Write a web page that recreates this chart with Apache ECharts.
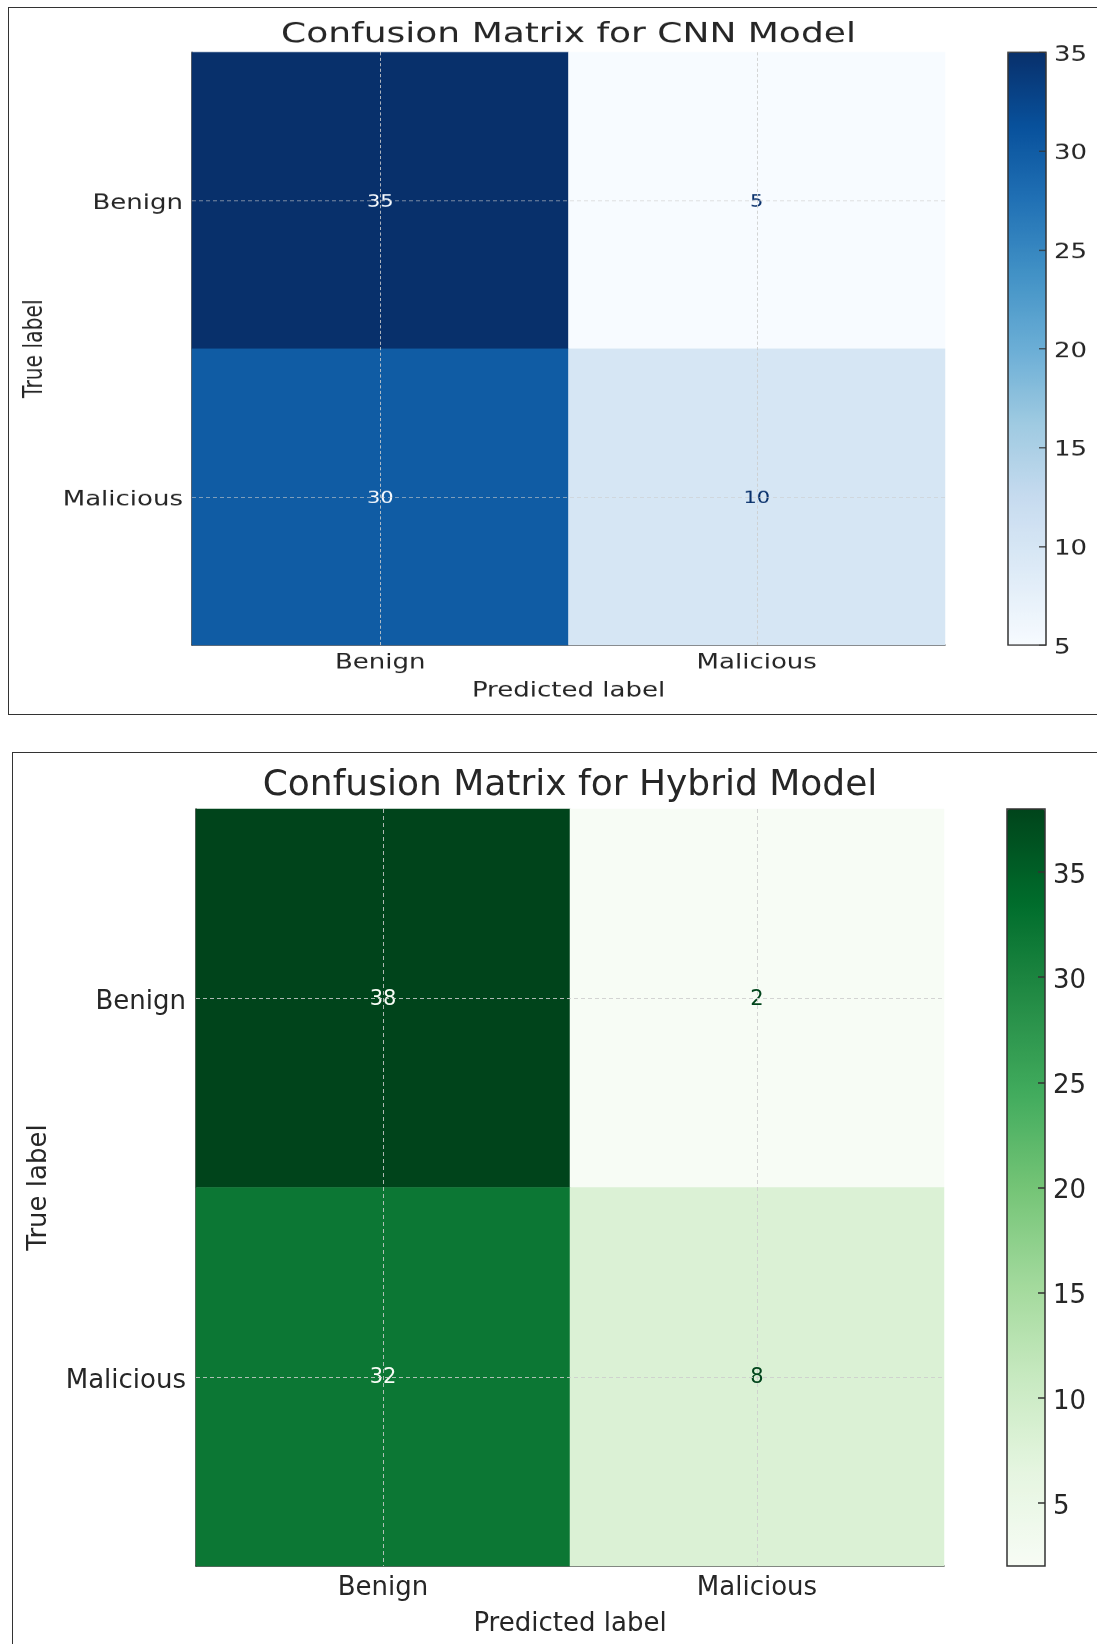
<!DOCTYPE html>
<html>
<head>
<meta charset="utf-8">
<script src="https://cdn.jsdelivr.net/npm/echarts@6/dist/echarts.min.js"></script>
<style>
  html, body { margin: 0; padding: 0; background: #fff; }
  body { width: 1097px; height: 1644px; position: relative; overflow: hidden; }
  .panel-box { position: absolute; border: 1.5px solid #333; box-sizing: border-box; }
  #cnn { position: absolute; left: 0; top: 0; width: 1097px; height: 960px; transform: scaleY(0.78); transform-origin: 0 0; }
  #hybrid { position: absolute; left: 0; top: 720px; width: 1097px; height: 924px; }
</style>
</head>
<body>
<div class="panel-box" style="left:8px; top:7px; width:1100px; height:708px;"></div>
<div class="panel-box" style="left:12px; top:752px; width:1100px; height:900px;"></div>
<div id="cnn"></div>
<div id="hybrid"></div>
<script>
// Class labels shared by both matrices (rows = true label, columns = predicted label)
const categories = ['Benign', 'Malicious'];

// CNN model confusion matrix
const cnnMatrix = [
  [35, 5],
  [30, 10]
];
const cnnColorRange = [5, 35];
const cnnColorTicks = [5, 10, 15, 20, 25, 30, 35];

// Hybrid model confusion matrix
const hybridMatrix = [
  [38, 2],
  [32, 8]
];
const hybridColorRange = [2, 38];
const hybridColorTicks = [5, 10, 15, 20, 25, 30, 35];

// Sequential colour maps
const blues = ['#f7fbff', '#deebf7', '#c6dbef', '#9ecae1', '#6baed6', '#4292c6', '#2171b5', '#08519c', '#08306b'];
const greens = ['#f7fcf5', '#e5f5e0', '#c7e9c0', '#a1d99b', '#74c476', '#41ab5d', '#238b45', '#006d2c', '#00441b'];

const FONT = 'DejaVu Sans';
const INK = '#262626';

function buildOption(cfg) {
  const values = cfg.matrix.flat();
  const threshold = (Math.min(...values) + Math.max(...values)) / 2;
  const cells = [];
  cfg.matrix.forEach((row, yi) => {
    row.forEach((v, xi) => {
      cells.push({
        value: [xi, yi, v],
        label: { color: v > threshold ? cfg.cmap[0] : cfg.cmap[cfg.cmap.length - 1] }
      });
    });
  });
  const L = cfg.layout;
  const sh = L.textShift; // nudges side labels a little lower
  const shifted = {
    t: { fontFamily: FONT, fontSize: 26, color: INK, padding: [2 * sh, 0, 0, 0] }
  };
  const shiftFmt = v => '{t|' + v + '}';
  return {
    animation: false,
    textStyle: { fontFamily: FONT },
    title: {
      text: cfg.title,
      left: L.left + L.width / 2,
      textAlign: 'center',
      top: L.titleTop,
      padding: 0,
      textStyle: { fontFamily: FONT, fontSize: 36, fontWeight: 'normal', color: INK, lineHeight: 36 }
    },
    grid: [
      { left: L.left, top: L.top, width: L.width, height: L.height },
      {
        left: L.cbLeft, top: L.top, width: L.cbWidth, height: L.height,
        show: true, backgroundColor: 'transparent', borderColor: '#333', borderWidth: 1.5, z: 10
      }
    ],
    xAxis: [
      {
        type: 'category', data: categories, gridIndex: 0,
        name: 'Predicted label', nameLocation: 'middle', nameGap: L.xNameGap,
        nameTextStyle: { fontFamily: FONT, fontSize: 26, color: INK },
        axisLine: { show: true, lineStyle: { color: '#333', width: 1.5 } },
        axisTick: { show: true, inside: true, alignWithLabel: true, length: 5, lineStyle: { color: '#333' } },
        axisLabel: { fontFamily: FONT, fontSize: 26, color: INK, margin: L.xLabelMargin },
        splitLine: { show: false }
      },
      { type: 'value', gridIndex: 1, show: false, min: 0, max: 1 }
    ],
    yAxis: [
      {
        type: 'category', data: categories, gridIndex: 0, inverse: true,
        name: 'True label', nameLocation: 'middle', nameGap: L.yNameGap, nameRotate: 90,
        nameTextStyle: { fontFamily: FONT, fontSize: 26, color: INK },
        axisLine: { show: true, lineStyle: { color: '#333', width: 1.5 } },
        axisTick: { show: true, inside: true, alignWithLabel: true, length: 5, lineStyle: { color: '#333' } },
        axisLabel: { fontFamily: FONT, fontSize: 26, color: INK, margin: L.yLabelMargin, formatter: shiftFmt, rich: shifted },
        splitLine: { show: false }
      },
      {
        type: 'value', gridIndex: 1, position: 'right', z: 10,
        min: cfg.range[0], max: cfg.range[1],
        axisLine: { show: false, onZero: false },
        axisTick: { show: true, inside: true, length: 7, lineStyle: { color: '#333', width: 1.5 }, customValues: cfg.ticks },
        axisLabel: { fontFamily: FONT, fontSize: 26, color: INK, margin: 8, formatter: shiftFmt, rich: shifted, customValues: cfg.ticks },
        splitLine: { show: false }
      }
    ],
    visualMap: {
      type: 'continuous',
      seriesIndex: 0,
      min: cfg.range[0], max: cfg.range[1],
      calculable: false,
      orient: 'vertical',
      left: L.cbLeft, top: L.top,
      padding: 0,
      itemWidth: L.cbWidth, itemHeight: L.height,
      inRange: { color: cfg.cmap },
      text: null,
      z: 4
    },
    series: [{
      type: 'heatmap',
      xAxisIndex: 0, yAxisIndex: 0,
      data: cells,
      label: { show: true, fontFamily: FONT, fontSize: 21, offset: [0, L.cellShift] },
      itemStyle: { borderWidth: 0 },
      emphasis: { disabled: true },
      markLine: {
        silent: true,
        symbol: 'none',
        label: { show: false },
        lineStyle: { color: 'rgba(205,205,205,0.85)', width: 1, type: [4, 3] },
        data: categories.map(c => ({ xAxis: c })).concat(categories.map(c => ({ yAxis: c })))
      }
    }]
  };
}

const cnnChart = echarts.init(document.getElementById('cnn'), null, { renderer: 'canvas' });
cnnChart.setOption(buildOption({
  title: 'Confusion Matrix for CNN Model',
  matrix: cnnMatrix,
  range: cnnColorRange,
  ticks: cnnColorTicks,
  cmap: blues,
  layout: {
    left: 192, width: 753, top: 67, height: 760,
    titleTop: 27,
    cbLeft: 1008, cbWidth: 38,
    xLabelMargin: 10, xNameGap: 46,
    yLabelMargin: 9, yNameGap: 144,
    textShift: 4, cellShift: 3
  }
}));

const hybridChart = echarts.init(document.getElementById('hybrid'), null, { renderer: 'canvas' });
hybridChart.setOption(buildOption({
  title: 'Confusion Matrix for Hybrid Model',
  matrix: hybridMatrix,
  range: hybridColorRange,
  ticks: hybridColorTicks,
  cmap: greens,
  layout: {
    left: 196, width: 748, top: 89, height: 757,
    titleTop: 48,
    cbLeft: 1007, cbWidth: 38,
    xLabelMargin: 9, xNameGap: 45,
    yLabelMargin: 10, yNameGap: 144,
    textShift: 4, cellShift: 1
  }
}));
</script>
</body>
</html>
